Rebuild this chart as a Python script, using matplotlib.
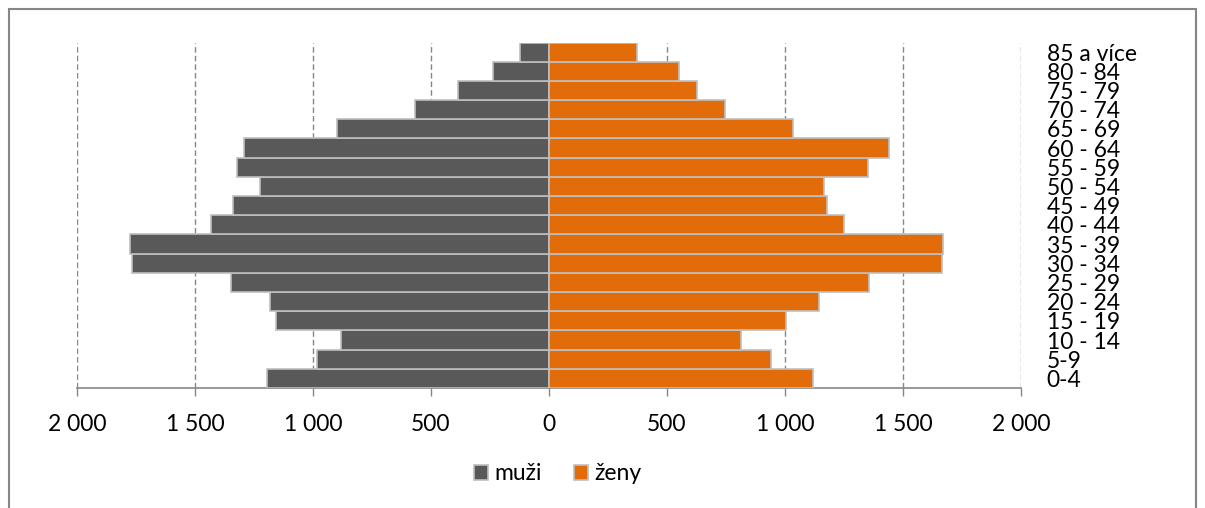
import matplotlib.pyplot as plt
from matplotlib.patches import Rectangle

# Data (bottom to top)
ages = ['0-4', '5-9', '10 - 14', '15 - 19', '20 - 24', '25 - 29', '30 - 34', '35 - 39',
        '40 - 44', '45 - 49', '50 - 54', '55 - 59', '60 - 64', '65 - 69', '70 - 74',
        '75 - 79', '80 - 84', '85 a více']
muzi = [1195, 983, 881, 1157, 1182, 1347, 1767, 1775, 1432, 1339, 1225, 1322, 1292,
        898, 568, 386, 237, 123]
zeny = [1119, 941, 814, 1004, 1144, 1356, 1665, 1669, 1250, 1178, 1165, 1352, 1441,
        1034, 746, 627, 551, 373]
xticks = [-2000, -1500, -1000, -500, 0, 500, 1000, 1500, 2000]

plt.rcParams['font.family'] = ['Lato', 'DejaVu Sans']
fs = 16.5

fig = plt.figure(figsize=(12.05, 5.08), dpi=100)
ax = fig.add_axes([77 / 1205, 1 - 388 / 508, (1021 - 77) / 1205, (388 - 42.5) / 508])

y = range(len(ages))
ax.barh(y, [-v for v in muzi], height=1.0, color='#595959', edgecolor='#bfbfbf',
        linewidth=1.2, label='muži', zorder=3)
ax.barh(y, zeny, height=1.0, color='#e36c0a', edgecolor='#bfbfbf',
        linewidth=1.2, label='ženy', zorder=3)

ax.set_xlim(-2000, 2000)
ax.set_ylim(-0.5, len(ages) - 0.5)
ax.set_xticks(xticks)
ax.set_xticklabels([f'{abs(v):,}'.replace(',', ' ') for v in xticks], fontsize=fs)
ax.tick_params(axis='x', length=5.8, color='#868686', width=1, pad=13)

ax.yaxis.tick_right()
ax.set_yticks(list(y))
ax.set_yticklabels(ages, fontsize=fs)
ax.tick_params(axis='y', length=0, pad=18.5)

ax.grid(axis='x', linestyle=(0, (4, 2.2)), color='#868686', linewidth=1, zorder=0)
for s in ['top', 'left', 'right']:
    ax.spines[s].set_visible(False)
ax.spines['bottom'].set_color('#868686')
ax.spines['bottom'].set_linewidth(1.2)

fig.legend(loc='center', bbox_to_anchor=(558 / 1205, 1 - 474 / 508), ncol=2,
           frameon=False, fontsize=fs, handlelength=0.6, handleheight=0.6,
           handletextpad=0.3, columnspacing=1.4)

fig.patches.append(Rectangle((9 / 1205, -0.1), (1196 - 9) / 1205, 1.1 - 9 / 508,
                             transform=fig.transFigure, fill=False,
                             edgecolor='#868686', linewidth=1.5))

fig.savefig('out.png', dpi=100)
